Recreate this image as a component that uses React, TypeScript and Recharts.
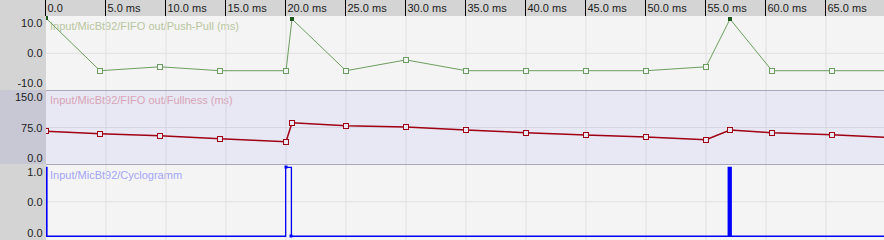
import { LineChart, Line, XAxis, YAxis, ReferenceLine } from "recharts";

const FONT = '"Liberation Sans", Arial, sans-serif';

// time axis (ms)
const timeTicks = [0, 5, 10, 15, 20, 25, 30, 35, 40, 45, 50, 55, 60, 65];
const timeMax = 69.83;

// Input/MicBt92/FIFO out/Push-Pull (ms)
const pushPullT = [0, 4.5, 9.5, 14.5, 20, 20.5, 25, 30, 35, 40, 45, 50, 55, 57, 60.5, 65.5, 69.83];
const pushPullV = [11.7, -5.8, -4.5, -5.8, -5.8, 11.4, -5.8, -2.2, -5.8, -5.8, -5.8, -5.8, -4.5, 11.4, -5.8, -5.8, -5.8];
const pushPullMark = ["f", "o", "o", "o", "o", "f", "o", "o", "o", "o", "o", "o", "o", "f", "o", "o", ""];
const pushPullTicks = [-10, 0, 10];
const pushPullLabels = ["-10.0", "0.0", "10.0"];

// Input/MicBt92/FIFO out/Fullness (ms)
const fullnessT = [0, 4.5, 9.5, 14.5, 20, 20.5, 25, 30, 35, 40, 45, 50, 55, 57, 60.5, 65.5, 69.83];
const fullnessV = [65.7, 59.9, 55, 47.7, 40.4, 86.7, 79.4, 76.2, 68.9, 62.3, 56.7, 51.8, 45.2, 68.9, 62.3, 57.4, 51.1];
const fullnessMark = ["o", "o", "o", "o", "o", "o", "o", "o", "o", "o", "o", "o", "o", "o", "o", "o", ""];
const fullnessTicks = [0, 75, 150];
const fullnessLabels = ["0.0", "75.0", "150.0"];

// Input/MicBt92/Cyclogramm
const cycloT = [0, 0.001, 0.08, 19.97, 20.45, 56.85, 56.9, 56.95, 57.0, 57.05, 57.1, 69.83];
const cycloV = [0, 1, 0, 1, 0, 1, 0, 1, 0, 1, 0, 0];
const cycloMark = ["", "", "", "m", "m", "", "", "", "", "", "", ""];
const cycloTicks = [0, 0.5, 1];
const cycloLabels = ["0.0", "0.0", "1.0"];

const toRows = (t: number[], v: number[], m: string[]) => t.map((x, i) => ({ t: x, v: v[i], m: m[i] }));

const pushPullData = toRows(pushPullT, pushPullV, pushPullMark);
const fullnessData = toRows(fullnessT, fullnessV, fullnessMark);
const cycloData = toRows(cycloT, cycloV, cycloMark);

const W = 884;
const LEFT = 46;

const makeLeftTick = (ticks: number[], labels: string[], top: number, bottom: number, pad: number) => (props: any) => {
  const { y, payload } = props;
  const idx = ticks.indexOf(payload.value);
  const cy = Math.min(Math.max(y, top + pad), bottom - pad);
  return (
    <text x={42.5} y={cy} textAnchor="end" dominantBaseline="central" fontSize={11} fontFamily={FONT} fill="#1c1c1c">
      {labels[idx]}
    </text>
  );
};

const TopTick = (props: any) => {
  const { x, payload } = props;
  const px = Math.round(x) - 0.5;
  const v = payload.value as number;
  return (
    <g>
      <line x1={px} x2={px} y1={0} y2={16} stroke="#000" />
      <text x={px + 2} y={12} fontSize={11} fontFamily={FONT} fill="#1c1c1c">
        {v.toFixed(1)}
        {v ? " ms" : ""}
      </text>
    </g>
  );
};

const squareDot = (stroke: string, bg: string, filled: string) => (props: any) => {
  const { cx, cy, payload, index } = props;
  if (payload.m === "o") {
    return (
      <rect key={`d${index}`} x={Math.round(cx) - 2.5} y={Math.round(cy) - 2.5} width={5} height={5} fill={bg} stroke={stroke} strokeWidth={1} />
    );
  }
  if (payload.m === "f") {
    return <rect key={`d${index}`} x={Math.round(cx) - 2} y={Math.round(cy) - 2} width={4} height={4} fill={filled} />;
  }
  if (payload.m === "m") {
    return <rect key={`d${index}`} x={Math.round(cx) - 1.5} y={Math.round(cy) - 1.5} width={3} height={3} fill={filled} />;
  }
  return <g key={`d${index}`} />;
};

const Title = ({ text, top, color }: { text: string; top: number; color: string }) => (
  <div style={{ position: "absolute", left: 50, top, fontSize: 11, lineHeight: "14px", fontFamily: FONT, color, whiteSpace: "nowrap" }}>
    {text}
  </div>
);

export default function App() {
  return (
    <div style={{ position: "fixed", left: 0, top: 0, width: W, height: 240, overflow: "hidden", background: "#d4d4d4" }}>
      {/* backgrounds */}
      <div style={{ position: "absolute", left: LEFT, top: 16, width: W - LEFT, height: 74, background: "#f4f4f4" }} />
      <div style={{ position: "absolute", left: LEFT, top: 90, width: W - LEFT, height: 1, background: "#a8a8b8" }} />
      <div style={{ position: "absolute", left: 0, top: 90, width: LEFT, height: 74, background: "#c8c8d4" }} />
      <div style={{ position: "absolute", left: LEFT, top: 91, width: W - LEFT, height: 73, background: "#e8e8f4" }} />
      <div style={{ position: "absolute", left: LEFT, top: 164, width: W - LEFT, height: 1, background: "#a8a8b8" }} />
      <div style={{ position: "absolute", left: LEFT, top: 165, width: W - LEFT, height: 75, background: "#f4f4f4" }} />

      <Title text="Input/MicBt92/FIFO out/Push-Pull (ms)" top={19} color="#b8c6a0" />
      <Title text="Input/MicBt92/FIFO out/Fullness (ms)" top={93} color="#d8a4b6" />
      <Title text="Input/MicBt92/Cyclogramm" top={168} color="#a4a4f8" />

      <div style={{ position: "absolute", left: 0, top: 0 }}>
        <LineChart width={W} height={90} data={pushPullData} margin={{ top: 0, right: 0, bottom: 0, left: 0 }}>
          <XAxis
            dataKey="t"
            type="number"
            orientation="top"
            height={16}
            domain={[0, timeMax]}
            ticks={timeTicks}
            interval={0}
            axisLine={false}
            tickLine={false}
            tick={<TopTick />}
            allowDataOverflow
          />
          <YAxis
            type="number"
            width={LEFT}
            domain={[-12.23, 12.43]}
            ticks={pushPullTicks}
            interval={0}
            axisLine={false}
            tickLine={false}
            tick={makeLeftTick(pushPullTicks, pushPullLabels, 16, 90, 6.5)}
            allowDataOverflow
          />
          {timeTicks.slice(1).map((t) => (
            <ReferenceLine key={t} x={t} stroke="#e0e0e0" />
          ))}
          <ReferenceLine y={0} stroke="#e0e0e0" />
          <Line
            type="linear"
            dataKey="v"
            stroke="#6b9e5e"
            strokeWidth={1}
            dot={squareDot("#6b9e5e", "#f4f4f4", "#1e5a1e")}
            activeDot={false}
            isAnimationActive={false}
          />
        </LineChart>
      </div>

      <div style={{ position: "absolute", left: 0, top: 91 }}>
        <LineChart width={W} height={73} data={fullnessData} margin={{ top: 0, right: 0, bottom: 0, left: 0 }}>
          <XAxis dataKey="t" type="number" hide domain={[0, timeMax]} ticks={timeTicks} allowDataOverflow />
          <YAxis
            type="number"
            width={LEFT}
            domain={[-14, 164]}
            ticks={fullnessTicks}
            interval={0}
            axisLine={false}
            tickLine={false}
            tick={makeLeftTick(fullnessTicks, fullnessLabels, 0, 73, 5)}
            allowDataOverflow
          />
          {timeTicks.slice(1).map((t) => (
            <ReferenceLine key={t} x={t} stroke="#d6d6e2" />
          ))}
          <ReferenceLine y={75} stroke="#d6d6e2" />
          <Line
            type="linear"
            dataKey="v"
            stroke="#a00014"
            strokeWidth={1.5}
            dot={squareDot("#a00014", "#e8e8f4", "#a00014")}
            activeDot={false}
            isAnimationActive={false}
          />
        </LineChart>
      </div>

      <div style={{ position: "absolute", left: 0, top: 165 }}>
        <LineChart width={W} height={75} data={cycloData} margin={{ top: 0, right: 0, bottom: 0, left: 0 }}>
          <XAxis dataKey="t" type="number" hide domain={[0, timeMax]} ticks={timeTicks} allowDataOverflow />
          <YAxis
            type="number"
            width={LEFT}
            domain={[-0.054, 1.033]}
            ticks={cycloTicks}
            interval={0}
            axisLine={false}
            tickLine={false}
            tick={makeLeftTick(cycloTicks, cycloLabels, 0, 75, 7)}
            allowDataOverflow
          />
          {timeTicks.slice(1).map((t) => (
            <ReferenceLine key={t} x={t} stroke="#e0e0e0" />
          ))}
          <ReferenceLine y={0.5} stroke="#e0e0e0" />
          <Line
            type="stepAfter"
            dataKey="v"
            stroke="#0000ff"
            strokeWidth={1.3}
            dot={squareDot("#0000ff", "#f4f4f4", "#0000ff")}
            activeDot={false}
            isAnimationActive={false}
          />
        </LineChart>
      </div>
    </div>
  );
}
